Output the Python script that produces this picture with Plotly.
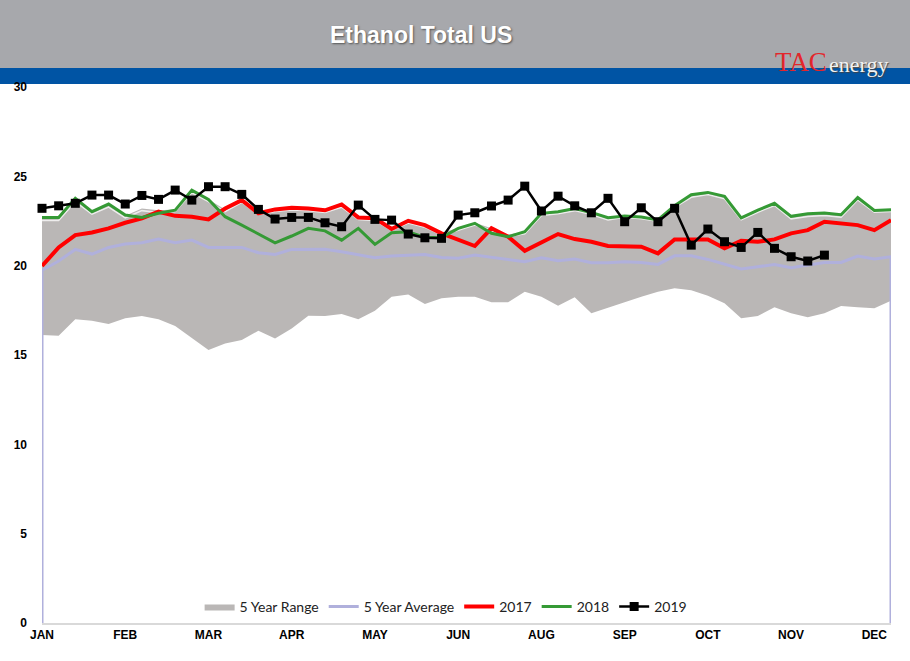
import plotly.graph_objects as go

# weekly index, one year (52 weeks)
weeks = list(range(52))
month_ticks = [0, 5, 10, 15, 20, 25, 30, 35, 40, 45, 50]
month_labels = ["JAN", "FEB", "MAR", "APR", "MAY", "JUN", "AUG", "SEP", "OCT", "NOV", "DEC"]

# 5 year range (low / high) and average
range_low = [16.12, 16.08, 17.00, 16.92, 16.73, 17.05, 17.18, 17.00, 16.62, 15.93,
             15.28, 15.65, 15.84, 16.36, 15.93, 16.49, 17.20, 17.18, 17.29, 17.00,
             17.48, 18.26, 18.39, 17.85, 18.17, 18.26, 18.26, 17.95, 17.95, 18.54,
             18.26, 17.76, 18.23, 17.33, 17.64, 17.98, 18.26, 18.54, 18.73, 18.63,
             18.32, 17.89, 17.05, 17.18, 17.67, 17.33, 17.11, 17.33, 17.74, 17.67,
             17.61, 18.04]
range_high = [22.65, 22.65, 23.70, 23.00, 23.40, 22.80, 23.20, 23.10, 23.15, 24.20,
              23.70, 23.15, 23.67, 22.98, 23.15, 23.24, 23.20, 23.10, 23.39, 22.70,
              22.65, 22.10, 22.50, 22.27, 21.85, 22.10, 22.40, 22.10, 21.75, 21.90,
              22.93, 23.02, 23.20, 22.98, 22.68, 22.83, 22.74, 22.61, 23.39, 23.95,
              24.10, 23.86, 22.68, 23.11, 23.49, 22.74, 22.87, 22.93, 22.83, 23.80,
              23.11, 23.15]
avg_5yr = [19.75, 20.26, 20.91, 20.65, 21.02, 21.21, 21.28, 21.49, 21.28, 21.43,
           21.02, 21.02, 21.02, 20.72, 20.63, 20.91, 20.91, 20.92, 20.78, 20.59,
           20.44, 20.54, 20.59, 20.63, 20.46, 20.41, 20.59, 20.46, 20.37, 20.22,
           20.44, 20.27, 20.37, 20.16, 20.16, 20.22, 20.18, 20.07, 20.55, 20.55,
           20.35, 20.07, 19.81, 19.94, 20.07, 19.88, 20.03, 20.18, 20.18, 20.54,
           20.37, 20.50]

y2017 = [19.98, 21.02, 21.71, 21.86, 22.09, 22.40, 22.65, 23.02, 22.79, 22.74,
         22.59, 23.20, 23.67, 22.93, 23.15, 23.24, 23.20, 23.10, 23.43, 22.70,
         22.65, 22.05, 22.51, 22.27, 21.81, 21.43, 21.10, 22.09, 21.62, 20.83,
         21.28, 21.77, 21.49, 21.34, 21.10, 21.06, 21.06, 20.69, 21.47, 21.47,
         21.47, 20.97, 21.39, 21.34, 21.47, 21.81, 21.99, 22.46, 22.37, 22.27,
         21.99, 22.55]
y2018 = [22.70, 22.70, 23.77, 23.02, 23.45, 22.83, 22.70, 22.93, 23.11, 24.23,
         23.71, 22.74, 22.27, 21.77, 21.28, 21.66, 22.09, 21.95, 21.43, 22.09,
         21.19, 21.84, 21.90, 21.58, 21.58, 22.09, 22.37, 21.81, 21.62, 21.90,
         22.93, 23.02, 23.20, 22.98, 22.68, 22.78, 22.72, 22.56, 23.35, 23.97,
         24.10, 23.88, 22.67, 23.11, 23.49, 22.76, 22.90, 22.95, 22.85, 23.81,
         23.09, 23.13]
y2019 = [23.21, 23.35, 23.49, 23.95, 23.95, 23.45, 23.93, 23.71, 24.23, 23.67,
         24.42, 24.42, 23.99, 23.15, 22.61, 22.70, 22.70, 22.40, 22.18, 23.39,
         22.59, 22.55, 21.77, 21.56, 21.53, 22.83, 22.96, 23.34, 23.67, 24.45,
         23.06, 23.89, 23.35, 22.96, 23.77, 22.46, 23.24, 22.46, 23.21, 21.15,
         22.05, 21.34, 21.02, 21.86, 20.97, 20.50, 20.26, 20.59,
         None, None, None, None]

fig = go.Figure()

# 5 year range as a filled band
fig.add_trace(go.Scatter(x=weeks, y=range_low, mode="lines", line=dict(width=0),
                         showlegend=False, hoverinfo="skip"))
fig.add_trace(go.Scatter(x=weeks, y=range_high, mode="lines", line=dict(width=0),
                         fill="tonexty", fillcolor="#BAB7B6", name="5 Year Range"))
# light bevel just under the top edge of the band
fig.add_trace(go.Scatter(x=weeks, y=[v - 0.12 for v in range_high], mode="lines",
                         line=dict(color="rgba(255,255,255,0.75)", width=1.5),
                         showlegend=False, hoverinfo="skip"))

# average line drops to zero at both ends, like the source chart
fig.add_trace(go.Scatter(x=[weeks[0]] + weeks + [weeks[-1]], y=[0] + avg_5yr + [0],
                         mode="lines", line=dict(color="#B0B0DC", width=3),
                         name="5 Year Average"))
fig.add_trace(go.Scatter(x=weeks, y=y2017, mode="lines",
                         line=dict(color="#FF0000", width=4), name="2017"))
fig.add_trace(go.Scatter(x=weeks, y=y2018, mode="lines",
                         line=dict(color="#359A35", width=3), name="2018"))
fig.add_trace(go.Scatter(x=weeks, y=y2019, mode="lines+markers",
                         line=dict(color="#000000", width=2.5),
                         marker=dict(symbol="square", size=9, color="#000000"),
                         cliponaxis=False, name="2019"))

# header band (gray) and blue stripe
fig.add_shape(type="rect", xref="paper", yref="paper", x0=-0.06, x1=1.03,
              y0=1.0354, y1=1.17, fillcolor="#A7A8AC", line_width=0, layer="below")
fig.add_shape(type="rect", xref="paper", yref="paper", x0=-0.06, x1=1.03,
              y0=1.0056, y1=1.0354, fillcolor="#0054A4", line_width=0, layer="below")

fig.add_annotation(text="<b>Ethanol Total US</b>", xref="paper", yref="paper",
                   x=0.4464, y=1.097, xanchor="center", yanchor="middle", showarrow=False,
                   font=dict(family="Liberation Sans", size=23, color="white",
                             shadow="1px 1px 2px #555555"))
fig.add_annotation(text="TAC", xref="paper", yref="paper", x=0.861, y=1.047,
                   xanchor="left", yanchor="middle", showarrow=False,
                   font=dict(family="Liberation Serif", size=27, color="#E3262B"))
fig.add_annotation(text="energy", xref="paper", yref="paper", x=0.925, y=1.042,
                   xanchor="left", yanchor="middle", showarrow=False,
                   font=dict(family="Liberation Serif", size=22, color="#F2F2F2",
                             shadow="1px 1px 1px #444444"))

fig.update_layout(
    width=910, height=661, autosize=False,
    margin=dict(l=42, r=19, t=87, b=38),
    paper_bgcolor="white", plot_bgcolor="white",
    showlegend=True,
    legend=dict(orientation="h", traceorder="normal", x=0.476, xanchor="center",
                y=0.03, yanchor="middle", bgcolor="rgba(0,0,0,0)",
                font=dict(family="Lato", size=14, color="#222222")),
)
fig.update_xaxes(range=[0, 51], tickmode="array", tickvals=month_ticks,
                 ticktext=month_labels, showgrid=False, zeroline=False,
                 showline=True, linecolor="#D9D9D9", linewidth=1.5,
                 tickfont=dict(family="Liberation Sans", size=12, color="black",
                               weight="bold"))
fig.update_yaxes(range=[0, 30], dtick=5, showgrid=False, zeroline=False,
                 showline=False, ticklabelstandoff=14,
                 tickfont=dict(family="Liberation Sans", size=12, color="black",
                               weight="bold"))

# drop the default page margin so the chart sits at the window's corner
fig.write_html("out.html", config={"displayModeBar": False},
               post_script="document.body.style.margin='0px';")
